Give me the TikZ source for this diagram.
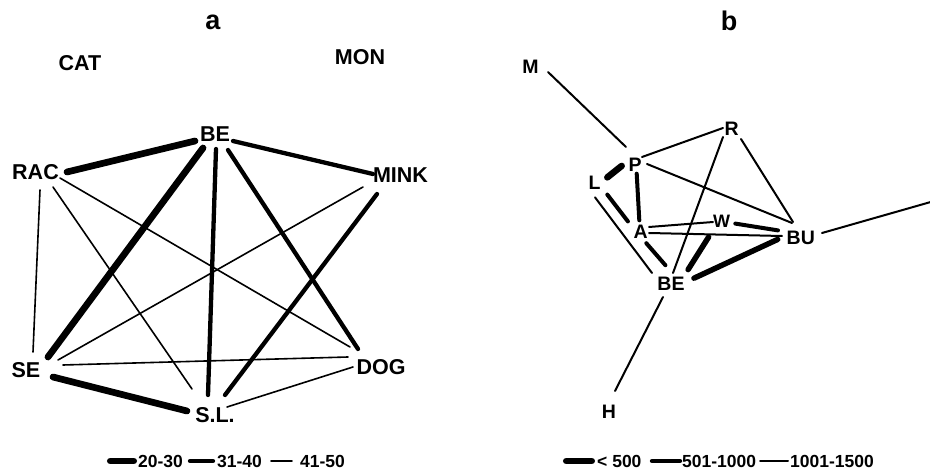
\documentclass[tikz,border=0pt]{standalone}
\usepackage{fontspec}
\setmainfont{Liberation Sans}
\begin{document}
\begin{tikzpicture}[x=1pt,y=-1pt,line cap=round,
  lab/.style={inner sep=0pt,font=\bfseries\fontsize{21.5}{24}\selectfont},
  labb/.style={inner sep=0pt,font=\bfseries\fontsize{19.5}{22}\selectfont},
  labw/.style={inner sep=0pt,font=\bfseries\fontsize{18}{20}\selectfont},
  ttl/.style={inner sep=0pt,font=\bfseries\fontsize{27}{30}\selectfont},
  leg/.style={inner sep=0pt,anchor=west,font=\bfseries\fontsize{17.5}{20}\selectfont},
  thk/.style={line width=6.7pt},
  med/.style={line width=4.3pt},
  thn/.style={line width=1.6pt},
  thkb/.style={line width=5.5pt},
  medb/.style={line width=4pt},
  thnb/.style={line width=2pt}]
\useasboundingbox[fill=white] (0,0) rectangle (930,476);

% ---------- panel a ----------
\node[ttl] (ta) at (213,22) {a};
\node[lab] (cat) at (80,63.5) {CAT};
\node[lab] (mon) at (360,57) {MON};
\node[lab] (BE) at (215,134) {BE};
\node[lab] (RAC) at (35.5,172.5) {RAC};
\node[lab] (MINK) at (400.5,175.5) {MINK};
\node[lab] (SE) at (26,370.5) {SE};
\node[lab] (DOG) at (381,367.5) {DOG};
\node[lab] (SL) at (215,415) {S.L.};

\draw[thk] ([shift={(31.5,-0.5)}]RAC.center) -- ([shift={(-20,7)}]BE.center);
\draw[med] ([shift={(18,7)}]BE.center) -- ([shift={(-27.5,-1.5)}]MINK.center);
\draw[thk] ([shift={(-12,14)}]BE.center) -- ([shift={(22,-13.5)}]SE.center);
\draw[med] ([shift={(1,15)}]BE.center) -- ([shift={(-7,-20)}]SL.center);
\draw[med] ([shift={(13,16)}]BE.center) -- ([shift={(-23,-18.5)}]DOG.center);
\draw[med] ([shift={(-23.5,18.5)}]MINK.center) -- ([shift={(10,-20)}]SL.center);
\draw[thn] ([shift={(-37.5,11.5)}]MINK.center) -- ([shift={(32,-10.5)}]SE.center);
\draw[thn] ([shift={(24.5,5.5)}]RAC.center) -- ([shift={(-31,-20.5)}]DOG.center);
\draw[thn] ([shift={(17.5,14.5)}]RAC.center) -- ([shift={(-23,-26)}]SL.center);
\draw[thn] ([shift={(4.5,17.5)}]RAC.center) -- ([shift={(7,-18.5)}]SE.center);
\draw[thn] ([shift={(37,-5.5)}]SE.center) -- ([shift={(-33,-10.5)}]DOG.center);
\draw[thk] ([shift={(27,6.5)}]SE.center) -- ([shift={(-28,-4)}]SL.center);
\draw[thn] ([shift={(-28,-0.5)}]DOG.center) -- ([shift={(12,-8)}]SL.center);

% legend a
\coordinate (la1) at (110.3,461); \coordinate (la2) at (133.7,461);
\draw[thk] (la1) -- (la2);
\node[leg] (lta) at (138,461) {20-30};
\coordinate (lb1) at (190,461); \coordinate (lb2) at (213,461);
\draw[med] (lb1) -- (lb2);
\node[leg] (ltb) at (217,461) {31-40};
\coordinate (lc1) at (271,461); \coordinate (lc2) at (292,461);
\draw[thn] (lc1) -- (lc2);
\node[leg] (ltc) at (300,461) {41-50};

% ---------- panel b ----------
\node[ttl] (tb) at (729,21) {b};
\node[labb] (M) at (530.5,67) {M};
\node[labb] (R) at (731.7,128.8) {R};
\node[labb] (P) at (635,164.5) {P};
\node[labb] (L) at (594.5,183) {L};
\node[labw] (W) at (721.7,221) {W};
\node[labb] (A) at (640.7,232) {A};
\node[labb] (BU) at (800.8,238.3) {BU};
\node[labb] (BEb) at (671,283.3) {BE};
\node[labb] (H) at (609,411.5) {H};
\coordinate (free) at (930,202.2);

\draw[thnb] ([shift={(17.5,5)}]M.center) -- ([shift={(-9,-17.5)}]P.center);
\draw[thnb] ([shift={(7,-7.5)}]P.center) -- ([shift={(-8.7,-0.8)}]R.center);
\draw[thnb] ([shift={(12,-0.5)}]P.center) -- ([shift={(-8.8,-15.3)}]BU.center);
\draw[thnb] ([shift={(9.3,10.2)}]R.center) -- ([shift={(-7.8,-16.3)}]BU.center);
\draw[thnb] ([shift={(-8.7,8.2)}]R.center) -- ([shift={(2,-10.3)}]BEb.center);
\draw[line width=6.5pt] ([shift={(12.8,-5.6)}]L.center) -- ([shift={(-13.3,1.4)}]P.center);
\draw[medb] ([shift={(1.7,9.2)}]P.center) -- ([shift={(-1.4,-11.7)}]A.center);
\draw[medb] ([shift={(12.8,11.6)}]L.center) -- ([shift={(-12.8,-10.6)}]A.center);
\draw[thnb] ([shift={(0.5,14.3)}]L.center) -- ([shift={(-19,-10.3)}]BEb.center);
\draw[thnb] ([shift={(8.3,-5)}]A.center) -- ([shift={(-8.7,1)}]W.center);
\draw[thnb] ([shift={(8.3,1)}]A.center) -- ([shift={(-18.8,-2.3)}]BU.center);
\draw[medb] ([shift={(13.6,2.6)}]W.center) -- ([shift={(-22.8,-7.9)}]BU.center);
\draw[medb] ([shift={(5.6,11.2)}]A.center) -- ([shift={(-5.6,-18.1)}]BEb.center);
\draw[thkb] ([shift={(-13.1,16.1)}]W.center) -- ([shift={(17.1,-13.7)}]BEb.center);
\draw[thkb] ([shift={(23,-5.1)}]BEb.center) -- ([shift={(-23.1,1.1)}]BU.center);
\draw[thnb] ([shift={(-8,13.7)}]BEb.center) -- ([shift={(6,-20.5)}]H.center);
\draw[thnb] ([shift={(21.2,-5.3)}]BU.center) -- (free);

% legend b
\coordinate (lm1) at (566.3,461); \coordinate (lm2) at (591.7,461);
\draw[thk] (lm1) -- (lm2);
\node[leg] (ltm) at (597,461) {< 500};
\coordinate (ln1) at (652,461); \coordinate (ln2) at (680,461);
\draw[med] (ln1) -- (ln2);
\node[leg] (ltn) at (682,461) {501-1000};
\coordinate (lo1) at (760,461); \coordinate (lo2) at (788,461);
\draw[thnb] (lo1) -- (lo2);
\node[leg] (lto) at (790,461) {1001-1500};
\end{tikzpicture}
\end{document}
